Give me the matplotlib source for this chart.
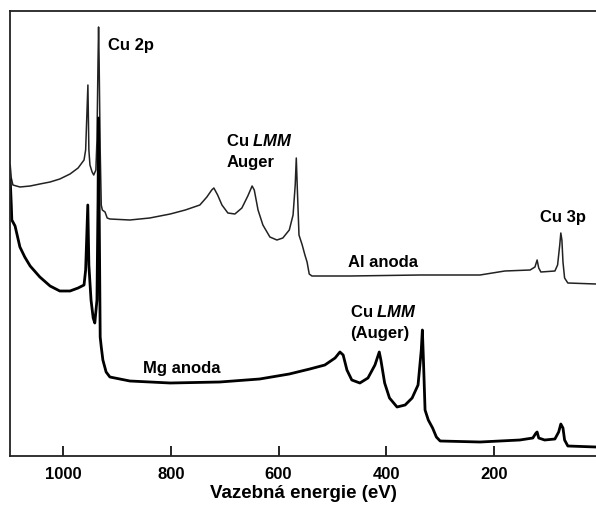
import matplotlib
matplotlib.use('Agg')
import matplotlib.pyplot as plt
import numpy as np

plt.rcParams['font.family'] = ['Liberation Sans', 'DejaVu Sans']
plt.rcParams['mathtext.fontset'] = 'custom'
plt.rcParams['mathtext.it'] = 'Liberation Sans:italic:bold'
plt.rcParams['mathtext.rm'] = 'Liberation Sans:bold'

# Al anode spectrum (binding energy eV, intensity a.u.)
al_energy = [1098, 1096, 1093, 1080, 1061, 1043, 1024, 1006, 987, 972, 961, 958,
             953.8, 952, 950, 946, 943, 939, 937, 935, 934, 933, 931, 929, 927,
             922, 918, 913, 876, 839, 801, 773, 746, 733, 724, 720, 713, 705,
             694, 681, 668, 657, 649, 645, 638, 629, 616, 603, 592, 580, 573,
             569, 567, 565, 562, 556, 551, 547, 543, 538, 467, 337, 226, 180,
             133, 124, 120, 117, 113, 87, 82, 78, 76, 74, 72, 69, 63, 11]
al_counts = [291, 278, 271, 269, 270, 272, 274, 277, 282, 288, 296, 306,
             371, 306, 291, 284, 281, 286, 316, 396, 429, 396, 306, 251, 246,
             244, 238, 237, 236, 238, 242, 246, 251, 259, 266, 268, 261, 251,
             243, 242, 248, 260, 270, 266, 246, 231, 219, 216, 218, 226, 241,
             271, 298, 266, 221, 211, 201, 194, 182, 180, 180, 181, 181, 185,
             186, 189, 196, 188, 184, 185, 191, 211, 223, 216, 194, 178, 173, 172]

# Mg anode spectrum
mg_energy = [1098, 1096, 1095, 1089, 1080, 1071, 1061, 1043, 1024, 1006, 987,
             972, 961, 958, 954, 952, 948, 944, 941, 937, 935, 934, 933, 931,
             929, 926, 920, 913, 876, 801, 709, 635, 580, 542, 514, 495, 486,
             480, 473, 464, 449, 434, 421, 413, 410, 403, 394, 380, 365, 352,
             341, 335, 333, 331, 328, 322, 314, 307, 300, 226, 152, 128, 122,
             120, 117, 106, 87, 80, 76, 72, 69, 63, 11]
mg_counts = [276, 251, 236, 230, 209, 199, 190, 179, 170, 165, 165,
             168, 171, 186, 251, 191, 156, 138, 133, 156, 256, 338, 256, 119,
             109, 96, 84, 79, 75, 73, 74, 77, 82, 87, 91, 98, 104,
             101, 86, 76, 73, 78, 91, 104, 96, 73, 58, 49, 51, 58,
             71, 106, 126, 96, 46, 36, 28, 19, 15, 14, 16, 18, 23,
             24, 18, 16, 17, 24, 32, 28, 16, 10, 9]

ticks = [1000, 800, 600, 400, 200]

fig = plt.figure(figsize=(5.96, 5.05), dpi=100)
ax = fig.add_axes([10 / 596, 1 - 456 / 505, 1 - 10 / 596, 445 / 505])

ax.plot(al_energy, al_counts, color='#222222', lw=1.1)
ax.plot(mg_energy, mg_counts, color='black', lw=2.0)

ax.set_xlim(1098.4, 10.7)
ax.set_ylim(0, 445)
ax.set_xticks(ticks)
ax.set_yticks([])
ax.tick_params(axis='x', direction='in', length=7, width=1.2, labelsize=12,
               pad=8, colors='black')
for lab in ax.get_xticklabels():
    lab.set_fontweight('bold')
ax.spines['right'].set_visible(False)
for s in ['left', 'top', 'bottom']:
    ax.spines[s].set_linewidth(1.3)
    ax.spines[s].set_color('#222222')

ax.set_xlabel('Vazebná energie (eV)', fontsize=13.5, fontweight='bold', labelpad=2)

kw = dict(fontsize=12, fontweight='bold', va='baseline', ha='left')
ax.text(916, 456 - 50, 'Cu 2p', **kw)
ax.text(697, 456 - 146, r'Cu $\mathit{LMM}$', **kw)
ax.text(697, 456 - 167, 'Auger', **kw)
ax.text(471, 456 - 267, 'Al anoda', **kw)
ax.text(467, 456 - 317, r'Cu $\mathit{LMM}$', **kw)
ax.text(467, 456 - 338, '(Auger)', **kw)
ax.text(115, 456 - 222, 'Cu 3p', **kw)
ax.text(851, 456 - 373, 'Mg anoda', **kw)

fig.savefig('out.png', dpi=100)
